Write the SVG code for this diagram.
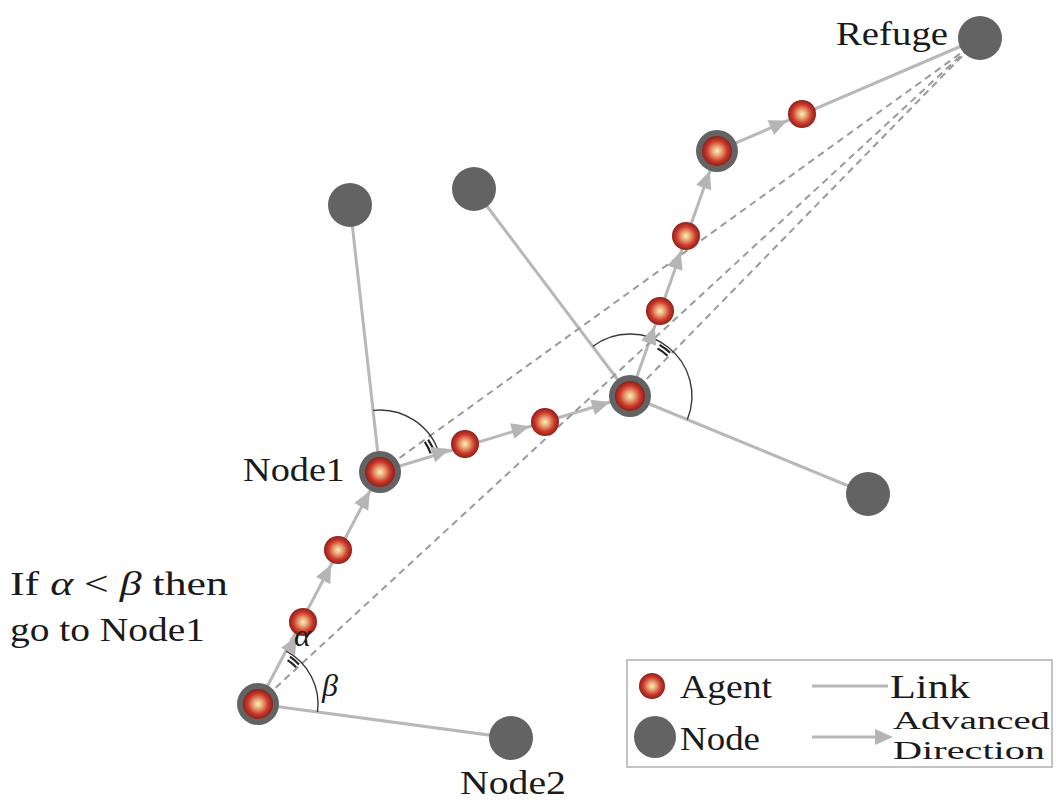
<svg xmlns="http://www.w3.org/2000/svg" width="1056" height="802" viewBox="0 0 1056 802">
<defs>
<radialGradient id="ag" cx="50%" cy="50%" r="50%">
<stop offset="0" stop-color="#f9f1b8"/>
<stop offset="0.3" stop-color="#eaa878"/>
<stop offset="0.68" stop-color="#cc3a2c"/>
<stop offset="1" stop-color="#8e1f18"/>
</radialGradient>
<polygon id="arr" points="0,0 -18,-8 -18,8" fill="#b5b5b5"/>
</defs>
<style>
.link{stroke:#b8b8b8;stroke-width:3;fill:none}
.dash{stroke:#9a9a9a;stroke-width:2;stroke-dasharray:7 5;fill:none}
.arc{stroke:#3a3a3a;stroke-width:1.4;fill:none}
.mark{stroke:#222;stroke-width:2.2;fill:none}
.node{fill:#636363}
.agent{fill:url(#ag)}
.lbl{font-family:"Liberation Serif",serif;font-size:34px;fill:#1a1a1a}
.sm{font-size:26px}
.gr{font-size:32px}
.it{font-style:italic}
</style>
<rect width="1056" height="802" fill="#ffffff"/>

<g id="connectors">
<line class="link" x1="258" y1="704" x2="380" y2="472"/>
<line class="link" x1="258" y1="704" x2="511" y2="738"/>
<line class="link" x1="380" y1="472" x2="350" y2="205"/>
<line class="link" x1="380" y1="472" x2="630" y2="396"/>
<line class="link" x1="630" y1="396" x2="474" y2="189"/>
<line class="link" x1="630" y1="396" x2="868" y2="494"/>
<line class="link" x1="630" y1="396" x2="717" y2="151"/>
<line class="link" x1="717" y1="151" x2="980" y2="38"/>
<line class="dash" x1="258" y1="704" x2="968" y2="49"/>
<line class="dash" x1="380" y1="472" x2="968" y2="48"/>
<line class="dash" x1="630" y1="396" x2="968" y2="50"/>
<path class="arc" d="M317.5,712 A60,60 0 0 0 285.9,650.9"/>
<path class="mark" d="M287.6,660.1 A53,53 0 0 1 296.1,667.2 M289.9,656.7 A57,57 0 0 1 299,664.4"/>
<path class="arc" d="M373.1,410.4 A62,62 0 0 1 439.3,453.9"/>
<path class="mark" d="M424.8,441.8 A54,54 0 0 1 430.7,453.5 M428.1,439.6 A58,58 0 0 1 434.5,452.2"/>
<path class="arc" d="M592.7,346.5 A62,62 0 0 1 687.3,419.6"/>
<path class="mark" d="M657.5,348.4 A55,55 0 0 1 667.5,355.8 M659.5,344.9 A59,59 0 0 1 670.2,352.8"/>
<use href="#arr" transform="translate(297,636) rotate(-60.2)"/>
<use href="#arr" transform="translate(331,564.4) rotate(-64.1)"/>
<use href="#arr" transform="translate(369.8,491) rotate(-61.7)"/>
<use href="#arr" transform="translate(449.8,449) rotate(-18.2)"/>
<use href="#arr" transform="translate(529.6,426.2) rotate(-15.4)"/>
<use href="#arr" transform="translate(609.9,402.1) rotate(-17)"/>
<use href="#arr" transform="translate(654.7,326.1) rotate(-70.6)"/>
<use href="#arr" transform="translate(680.8,251.1) rotate(-70.9)"/>
<use href="#arr" transform="translate(709.8,170.7) rotate(-70)"/>
<use href="#arr" transform="translate(787.3,120.4) rotate(-23.5)"/>
</g>

<g id="refuge"><circle class="node" cx="980" cy="38" r="22"/><text class="lbl" x="836" y="45" textLength="112" lengthAdjust="spacingAndGlyphs">Refuge</text></g>
<g id="nodeA"><circle class="node" cx="350" cy="205" r="22"/></g>
<g id="nodeB"><circle class="node" cx="474" cy="189" r="22"/></g>
<g id="nodeR"><circle class="node" cx="868" cy="494" r="22"/></g>
<g id="node2"><circle class="node" cx="511" cy="738" r="22"/><text class="lbl" x="460" y="794" textLength="106" lengthAdjust="spacingAndGlyphs">Node2</text></g>
<g id="start"><circle class="node" cx="258" cy="704" r="21"/><circle class="agent" cx="258" cy="704" r="15"/></g>
<g id="node1"><circle class="node" cx="380" cy="472" r="21"/><circle class="agent" cx="380" cy="472" r="15"/><text class="lbl" x="243" y="481" textLength="102" lengthAdjust="spacingAndGlyphs">Node1</text></g>
<g id="center"><circle class="node" cx="630" cy="396" r="21"/><circle class="agent" cx="630" cy="396" r="15"/></g>
<g id="upper"><circle class="node" cx="717" cy="151" r="21"/><circle class="agent" cx="717" cy="151" r="15"/></g>

<g id="agents">
<circle class="agent" cx="303" cy="622" r="14"/>
<circle class="agent" cx="338" cy="550" r="14"/>
<circle class="agent" cx="465" cy="444" r="14"/>
<circle class="agent" cx="545" cy="422" r="14"/>
<circle class="agent" cx="660" cy="311" r="14"/>
<circle class="agent" cx="686" cy="236" r="14"/>
<circle class="agent" cx="802" cy="114" r="14"/>
</g>

<g id="angle-labels">
<text class="lbl gr it" x="294" y="646">α</text>
<text class="lbl gr it" x="322" y="696">β</text>
</g>

<g id="rule">
<text class="lbl" x="10" y="595" textLength="218" lengthAdjust="spacingAndGlyphs">If <tspan class="it">α</tspan> &lt; <tspan class="it">β</tspan>  then</text>
<text class="lbl" x="10" y="641" textLength="195" lengthAdjust="spacingAndGlyphs">go to Node1</text>
</g>

<g id="legend">
<rect x="627" y="660" width="425" height="107" fill="#ffffff" stroke="#b0b0b0" stroke-width="1.5"/>
<circle class="agent" cx="652" cy="686" r="13"/>
<text class="lbl" x="680" y="698" textLength="92" lengthAdjust="spacingAndGlyphs">Agent</text>
<line class="link" x1="812" y1="686" x2="888" y2="686"/>
<text class="lbl" x="890" y="698" textLength="80" lengthAdjust="spacingAndGlyphs">Link</text>
<circle class="node" cx="655" cy="737" r="21"/>
<text class="lbl" x="680" y="750" textLength="80" lengthAdjust="spacingAndGlyphs">Node</text>
<line class="link" x1="812" y1="737" x2="876" y2="737"/>
<use href="#arr" transform="translate(893,737)"/>
<text class="lbl sm" x="893" y="729" textLength="157" lengthAdjust="spacingAndGlyphs">Advanced</text>
<text class="lbl sm" x="893" y="759" textLength="152" lengthAdjust="spacingAndGlyphs">Direction</text>
</g>
</svg>
